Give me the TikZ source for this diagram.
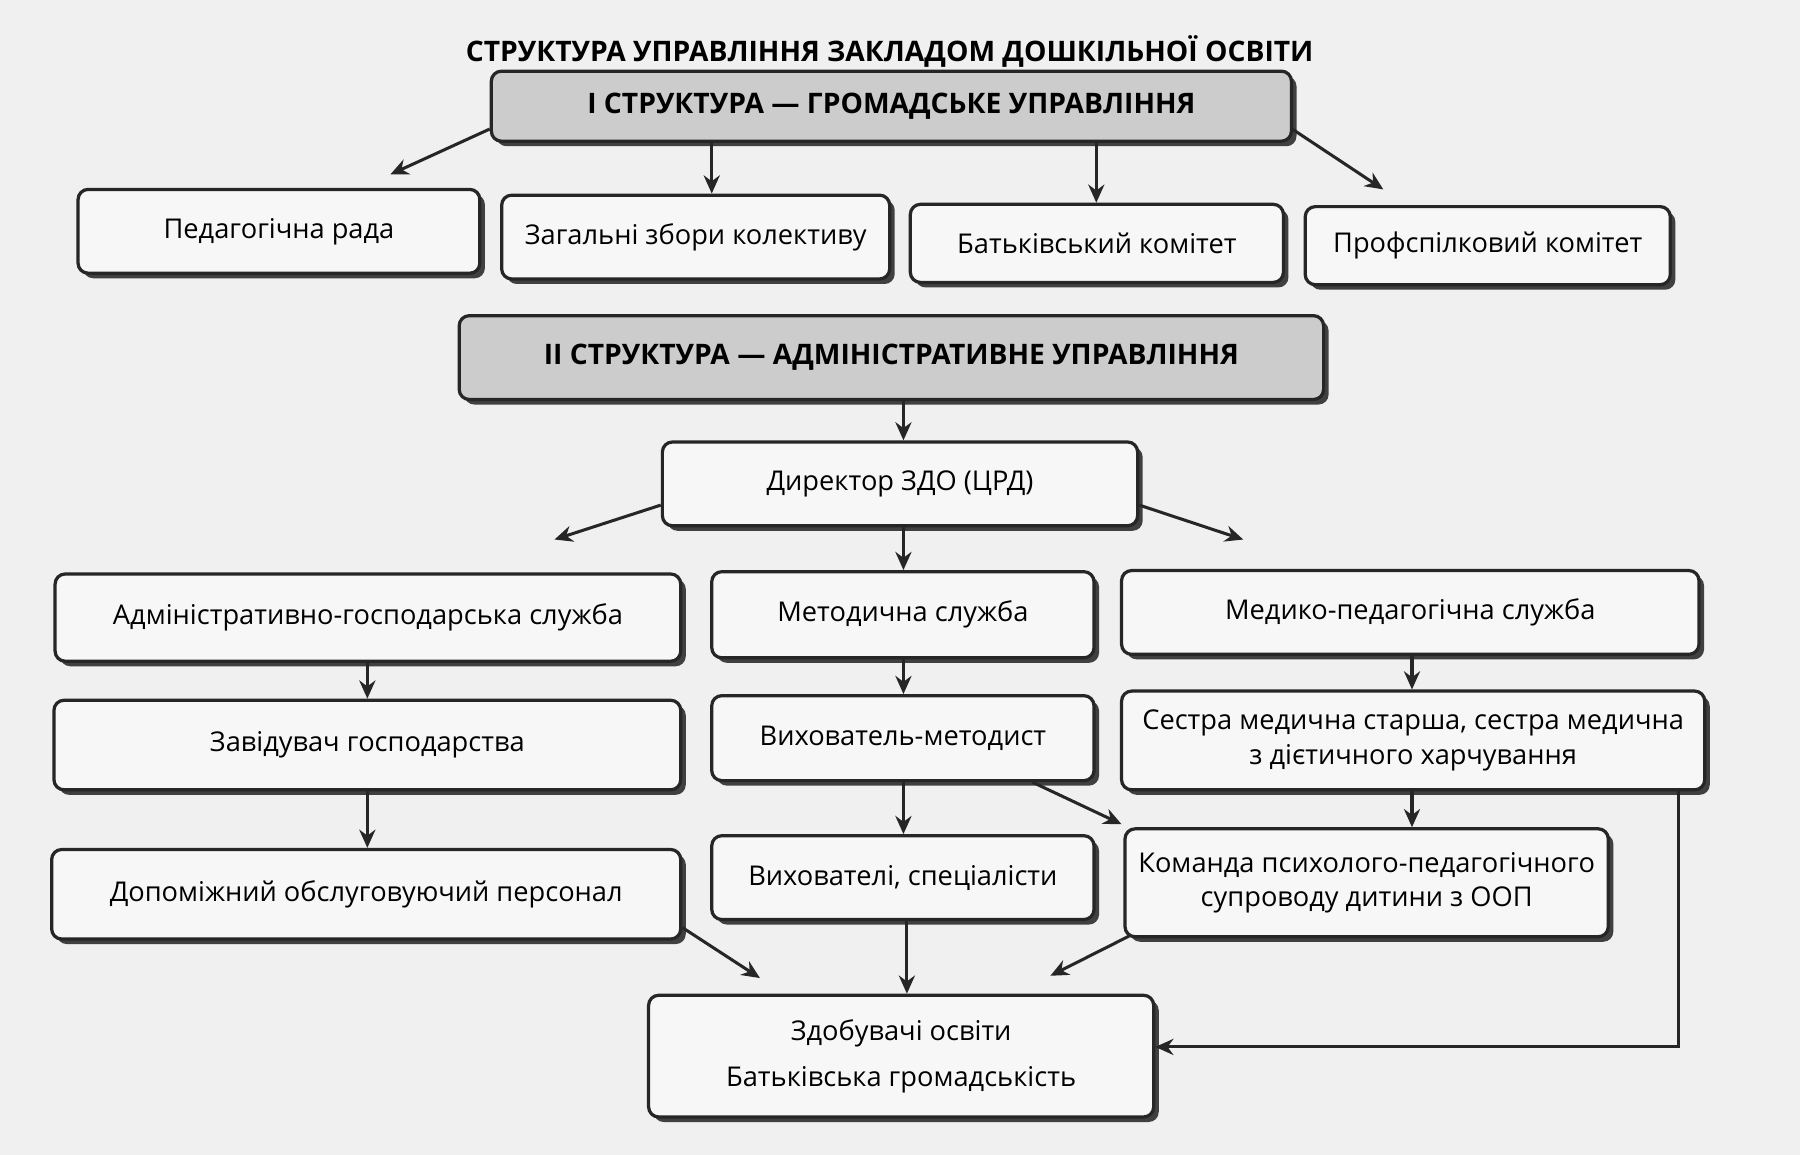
\documentclass[tikz,border=0pt]{standalone}
\usepackage{fontspec}
\setmainfont{Open Sans}
\usetikzlibrary{shadows,arrows.meta}
\begin{document}
\begin{tikzpicture}[x=0.02cm,y=-0.02cm,
 box/.style={draw=black!85,line width=1.6pt,rounded corners=5pt,fill=gray!6,align=center,
   font=\fontsize{13.5}{17}\selectfont,drop shadow={shadow xshift=2.5pt,shadow yshift=-2.5pt,fill=black!75,opacity=1}},
 hd/.style={box,fill=gray!40,font=\bfseries\fontsize{14}{17}\selectfont},
 ar/.style={line width=1.5pt,draw=black!85,-{Stealth[length=9pt,width=8pt]}}]
\fill[gray!12] (0,0) rectangle (1568,1006);
\newcommand\bx[7]{\node[#7, inner sep=0pt, minimum width={(#4-#2)*0.02cm}, minimum height={(#5-#3)*0.02cm}] (#1) at ({(#2+#4)/2},{(#3+#5)/2}) {#6};}
\node[font=\bfseries\fontsize{14}{17}\selectfont] (title) at (775,45) {СТРУКТУРА УПРАВЛІННЯ ЗАКЛАДОМ ДОШКІЛЬНОЇ ОСВІТИ};
\bx{I}{428}{62}{1125}{123}{I СТРУКТУРА — ГРОМАДСЬКЕ УПРАВЛІННЯ}{hd}
\bx{ped}{68}{165}{418}{238}{Педагогічна рада}{box}
\bx{zag}{437}{170}{775}{243}{Загальні збори колективу}{box}
\bx{bat}{793}{178}{1118}{246}{Батьківський комітет}{box}
\bx{prof}{1137}{180}{1455}{248}{Профспілковий комітет}{box}
\bx{II}{400}{275}{1153}{348}{II СТРУКТУРА — АДМІНІСТРАТИВНЕ УПРАВЛІННЯ}{hd}
\bx{dir}{577}{385}{991}{458}{Директор ЗДО (ЦРД)}{box}
\bx{adm}{48}{500}{593}{576}{Адміністративно-господарська служба}{box}
\bx{met}{620}{498}{953}{573}{Методична служба}{box}
\bx{med}{977}{497}{1480}{570}{Медико-педагогічна служба}{box}
\bx{zav}{47}{610}{593}{688}{Завідувач господарства}{box}
\bx{vm}{620}{606}{953}{680}{Вихователь-методист}{box}
\bx{ses}{977}{602}{1485}{688}{Сестра медична старша, сестра медична\\з дієтичного харчування}{box}
\bx{dop}{45}{740}{593}{818}{Допоміжний обслуговуючий персонал}{box}
\bx{vyh}{620}{728}{953}{801}{Вихователі, спеціалісти}{box}
\bx{kom}{980}{722}{1401}{816}{Команда психолого-педагогічного\\супроводу дитини з ООП}{box}
\bx{zd}{565}{867}{1005}{973}{Здобувачі освіти\\[6pt]Батьківська громадськість}{box}
\coordinate (a1) at (340,152); \coordinate (a4) at (1205,165);
\coordinate (d1) at (483,470); \coordinate (d3) at (1083,470);
\coordinate (m1) at (977,718);
\coordinate (b1) at (662,852); \coordinate (b3) at (915,850);
\coordinate (s1) at (1462,688); \coordinate (s2) at (1462,912);
\draw[ar] (I.south west)++(0,-12) -- (a1);
\draw[ar] (620,123) -- (zag.north -| 620,0);
\draw[ar] (955,123) -- (bat.north -| 955,0);
\draw[ar] (1125,112) -- (a4);
\draw[ar] (II.south -| 787,0) -- (dir.north -| 787,0);
\draw[ar] (dir.west |- 0,440) -- (d1);
\draw[ar] (dir.south -| 787,0) -- (met.north -| 787,0);
\draw[ar] (dir.east |- 0,440) -- (d3);
\draw[ar] (adm.south -| 320,0) -- (zav.north -| 320,0);
\draw[ar] (zav.south -| 320,0) -- (dop.north -| 320,0);
\draw[ar] (met.south -| 787,0) -- (vm.north -| 787,0);
\draw[ar] (vm.south -| 787,0) -- (vyh.north -| 787,0);
\draw[ar] (med.south -| 1230,0) -- (ses.north -| 1230,0);
\draw[ar] (ses.south -| 1230,0) -- (kom.north -| 1230,0);
\draw[ar] (vm.south east)++(-55,0) -- (m1);
\draw[ar] (dop.east |- 0,808) -- (b1);
\draw[ar] (vyh.south -| 790,0) -- (zd.north -| 790,0);
\draw[ar] (kom.south west)++(5,-2) -- (b3);
\draw[ar] (s1) -- (s2) -- (zd.east |- s2);
\end{tikzpicture}
\end{document}
